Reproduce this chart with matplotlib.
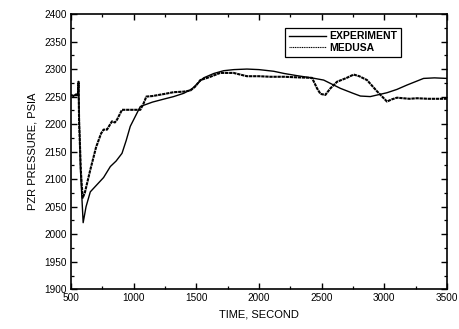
import matplotlib
matplotlib.use("Agg")
import matplotlib.pyplot as plt
from matplotlib.ticker import MultipleLocator

plt.rcParams['font.family'] = ['Liberation Sans', 'DejaVu Sans']

# EXPERIMENT (smooth, solid)
exp_t = [500, 550, 556, 560, 575, 597, 620, 654, 707, 760, 814, 860, 907, 940, 973,
         1053, 1150, 1250, 1319, 1400, 1465, 1558, 1640, 1718, 1800, 1904, 2000, 2117,
         2200, 2303, 2420, 2516, 2649, 2750, 2809, 2888, 3021, 3100, 3181, 3313, 3400, 3500]
exp_p = [2252, 2252, 2252, 2272, 2120, 2021, 2050, 2077, 2090, 2103, 2123, 2133, 2147, 2170, 2196,
         2232, 2240, 2246, 2250, 2256, 2264, 2284, 2292, 2297, 2299, 2300, 2299, 2296,
         2292, 2288, 2284, 2280, 2265, 2256, 2251, 2250, 2257, 2263, 2271, 2283, 2284, 2283]

# MEDUSA (noisy, dotted)
med_t = [500, 520, 540, 555, 560, 565, 580, 593, 610, 654, 700, 740, 760, 787, 800,
         827, 850, 867, 907, 960, 1000, 1053, 1080, 1101, 1150, 1250, 1319, 1400, 1452,
         1490, 1532, 1600, 1691, 1797, 1850, 1904, 2000, 2090, 2200, 2300, 2423, 2463,
         2490, 2529, 2570, 2623, 2700, 2755, 2800, 2862, 2940, 3021, 3060, 3101, 3200,
         3261, 3350, 3473, 3500]
med_p = [2253, 2251, 2254, 2253, 2277, 2200, 2110, 2066, 2075, 2117, 2158, 2183, 2190, 2190, 2195,
         2205, 2203, 2208, 2226, 2226, 2226, 2226, 2238, 2250, 2251, 2255, 2258, 2259, 2261,
         2268, 2280, 2285, 2293, 2293, 2290, 2287, 2287, 2286, 2286, 2285, 2284, 2265,
         2255, 2253, 2265, 2277, 2284, 2290, 2287, 2280, 2260, 2241, 2245, 2248, 2246,
         2247, 2246, 2246, 2246]

fig = plt.figure(figsize=(4.59, 3.29), dpi=100)
ax = fig.add_axes([71/459, 1 - 289.3/329, 376/459, 275.3/329])

ax.plot(exp_t, exp_p, color='black', lw=1.0, label='EXPERIMENT')
ax.plot(med_t, med_p, color='black', lw=1.5, ls=(0, (1.6, 0.35)), label='MEDUSA')

ax.set_xlim(500, 3500)
ax.set_ylim(1900, 2400)
ax.xaxis.set_major_locator(MultipleLocator(500))
ax.xaxis.set_minor_locator(MultipleLocator(250))
ax.yaxis.set_major_locator(MultipleLocator(50))
ax.yaxis.set_minor_locator(MultipleLocator(25))
ax.tick_params(which='both', direction='in', top=True, right=True, labelsize=7.2, pad=3)
ax.tick_params(which='major', length=4, width=1)
ax.tick_params(which='minor', length=2.2, width=0.9)
for s in ax.spines.values():
    s.set_linewidth(1.2)

ax.set_xlabel('TIME, SECOND', fontsize=8, labelpad=4)
ax.set_ylabel('PZR PRESSURE, PSIA', fontsize=8, labelpad=5)

leg = ax.legend(loc='upper left', bbox_to_anchor=((285 - 71) / 376, (289.3 - 27.7) / 275.3),
                frameon=True, fancybox=False, edgecolor='black', framealpha=1,
                prop={'weight': 'bold', 'size': 7.5}, handlelength=3.6, handletextpad=0.3,
                borderpad=0.35, labelspacing=0.15, borderaxespad=0)
leg.get_frame().set_linewidth(0.9)
leg.get_lines()[1].set_linewidth(0.8)
leg.get_lines()[1].set_linestyle((0, (1, 0.6)))

fig.savefig('out.png', dpi=100)
